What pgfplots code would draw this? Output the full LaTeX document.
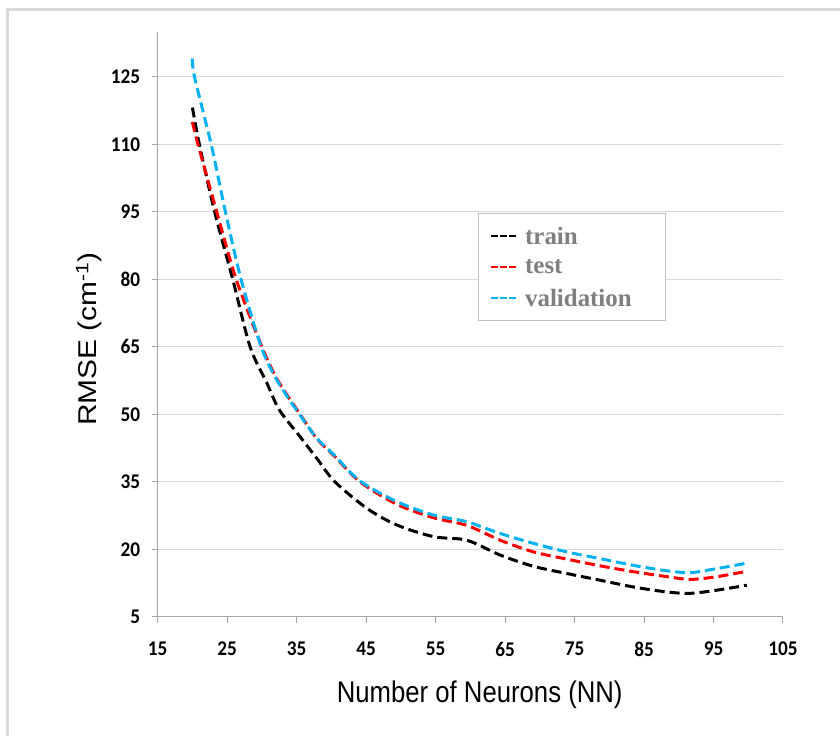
\documentclass[border=0pt]{standalone}
\usepackage{fontspec}
\usepackage{pgfplots}
\pgfplotsset{compat=1.18}
\newfontfamily\tickfont{Carlito}
\newfontfamily\labelfont{Liberation Sans}
\newfontfamily\legfont{Liberation Serif}
\definecolor{valblue}{HTML}{00B0F0}
\definecolor{axgray}{HTML}{A6A6A6}
\definecolor{gridgray}{HTML}{D9D9D9}
\definecolor{leggray}{HTML}{7F7F7F}
\definecolor{legedge}{HTML}{BFBFBF}
\definecolor{framegray}{HTML}{D9D9D9}

\pgfplotstableread{
x y
20 118.2
21 110
23.2 95
25.8 80
28.3 65
30.7 57.0
32.5 51.0
35.5 45.0
37.9 40.2
40.5 35
45.1 29.1
49.4 25.4
54.7 22.8
59.5 22.0
64.3 18.7
69.1 16.2
73.9 14.6
78.7 13.1
83.5 11.6
88.3 10.5
91.7 10.2
95.5 10.9
99.8 12.0
}\train
\pgfplotstableread{
x y
20 115
20.8 110
23.5 95
26.3 80
30 65
32.3 57.5
35.5 50
37.9 44.6
40.3 40.9
44.1 35
49.4 30.0
54.7 27.0
59.5 25.3
64.3 22
69.1 19.4
73.9 17.8
78.7 16.3
83.5 15.0
88.3 13.9
91.7 13.3
95.5 13.9
99.8 15.1
}\test
\pgfplotstableread{
x y
20 129.1
20.3 125
22.7 110
24.75 95
27 80
29.9 65
32.2 57.5
35.4 50
37.9 44.7
40.3 41.1
44.1 35.2
49.4 30.6
54.7 27.6
59.5 26.1
64.3 23.5
69.1 21.3
73.9 19.4
78.7 17.9
83.5 16.4
88.3 15.2
91.7 14.8
95.5 15.7
99.8 16.9
}\valid

\begin{document}
\begin{tikzpicture}
\path[use as bounding box] (-157.7bp,-119.3bp) rectangle (682.3bp,616.7bp);
\draw[framegray, line width=3bp] (-149.7bp,-119.3bp) -- (-149.7bp,606.7bp) -- (682.3bp,606.7bp);
\begin{axis}[
 scale only axis, width=625.3bp, height=584.7bp,
 xmin=15, xmax=105, ymin=5, ymax=135,
 xtick={15,25,...,105}, ytick={5,20,...,125},
 axis x line=bottom, axis y line=left,
 axis line style={axgray, line width=1.2bp, -},
 tick align=outside, major tick length=6bp,
 tick style={axgray, line width=1bp},
 ymajorgrids, grid style={gridgray, line width=1bp},
 /pgf/number format/assume math mode=true,
 tick label style={font=\fontsize{21}{24}\selectfont\tickfont\bfseries, xscale=0.92},
 xticklabel style={yshift=-16bp},
 yticklabel style={xshift=-9bp},
 xlabel={Number of Neurons (NN)},
 ylabel={RMSE (cm\textsuperscript{-1})},
 label style={font=\fontsize{30}{34}\selectfont\labelfont},
 xlabel style={at={([yshift=-78bp]axis description cs:0.515,0)}, anchor=center, xscale=0.86},
 ylabel style={at={([xshift=-69bp]axis description cs:0,0.475)}, anchor=center, yscale=0.86},
 legend style={at={(axis description cs:0.512,0.69)}, anchor=north west,
   draw=legedge, line width=1bp, inner xsep=12bp, inner ysep=7bp,
   font=\fontsize{25}{28}\selectfont\legfont\bfseries,
   nodes={inner sep=0pt, minimum height=31bp},
   /tikz/every odd column/.append style={column sep=8bp}},
 legend cell align=left,
]
\addplot[black, smooth, line width=3bp, dash pattern=on 10bp off 5bp,
  legend image code/.code={\draw[black, solid, line width=1.8bp, dash pattern=on 6.5bp off 2.5bp] (0bp,0bp) -- (25bp,0bp);}] table {\train};
\addlegendentry{\textcolor{leggray}{train}}
\addplot[red, smooth, line width=3bp, dash pattern=on 10bp off 5bp,
  legend image code/.code={\draw[red, solid, line width=1.8bp, dash pattern=on 6.5bp off 2.5bp] (0bp,0bp) -- (25bp,0bp);}] table {\test};
\addlegendentry{\textcolor{leggray}{test}}
\addplot[valblue, smooth, line width=3bp, dash pattern=on 10bp off 5bp,
  legend image code/.code={\draw[valblue, solid, line width=1.8bp, dash pattern=on 6.5bp off 2.5bp] (0bp,0bp) -- (25bp,0bp);}] table {\valid};
\addlegendentry{\textcolor{leggray}{validation}\hspace*{22bp}}
\end{axis}
\end{tikzpicture}
\end{document}
